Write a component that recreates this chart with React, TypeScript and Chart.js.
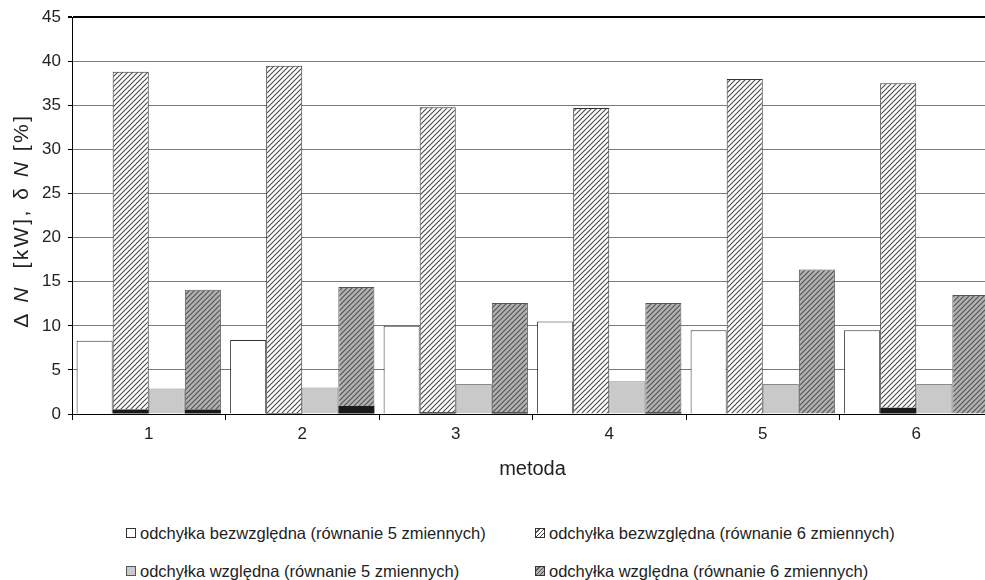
import React, { useEffect, useRef } from 'react';
import { Chart, registerables } from 'chart.js';

Chart.register(...registerables);

const FONT = '"Liberation Sans", Arial, sans-serif';

const categories = ['1', '2', '3', '4', '5', '6'];
// odchyłka bezwzględna (równanie 5 zmiennych)
const abs5 = [8.3, 8.4, 10.0, 10.5, 9.5, 9.5];
// odchyłka bezwzględna (równanie 6 zmiennych) - total bar height
const abs6 = [38.8, 39.5, 34.8, 34.7, 38.0, 37.5];
// dark strip visible at the base of those bars
const abs6Base = [0.5, 0.1, 0.2, 0.0, 0.0, 0.7];
// odchyłka względna (równanie 5 zmiennych)
const rel5 = [2.9, 3.0, 3.4, 3.7, 3.4, 3.4];
// odchyłka względna (równanie 6 zmiennych) - total bar height
const rel6 = [14.1, 14.4, 12.6, 12.6, 16.4, 13.5];
const rel6Base = [0.5, 0.9, 0.2, 0.2, 0.0, 0.0];

const yMin = 0;
const yMax = 45;
const yStep = 5;

const legendLabels = [
  'odchyłka bezwzględna (równanie 5 zmiennych)',
  'odchyłka bezwzględna (równanie 6 zmiennych)',
  'odchyłka względna (równanie 5 zmiennych)',
  'odchyłka względna (równanie 6 zmiennych)',
];
const xTitle = 'metoda';
const yTitleParts: [string, boolean][] = [
  ['Δ ', false],
  ['N', true],
  ['  [kW], δ ', false],
  ['N', true],
  [' [%]', false],
];

function makeHatch(bg: string, fg: string, size: number, lw: number) {
  const c = document.createElement('canvas');
  c.width = size;
  c.height = size;
  const g = c.getContext('2d')!;
  g.fillStyle = bg;
  g.fillRect(0, 0, size, size);
  g.strokeStyle = fg;
  g.lineWidth = lw;
  g.beginPath();
  g.moveTo(0, size);
  g.lineTo(size, 0);
  g.moveTo(-2, 2);
  g.lineTo(2, -2);
  g.moveTo(size - 2, size + 2);
  g.lineTo(size + 2, size - 2);
  g.stroke();
  return g.createPattern(c, 'repeat') as CanvasPattern;
}

const yTitlePlugin = {
  id: 'yTitleMixed',
  afterDraw(chart: any) {
    const { ctx, chartArea } = chart;
    ctx.save();
    ctx.translate(22, (chartArea.top + chartArea.bottom) / 2 + 5);
    ctx.rotate(-Math.PI / 2);
    ctx.fillStyle = '#222';
    ctx.textBaseline = 'middle';
    ctx.textAlign = 'left';
    try {
      (ctx as any).letterSpacing = '2.5px';
    } catch (e) {
      /* ignore */
    }
    const fontFor = (it: boolean) => `${it ? 'italic ' : ''}21px ${FONT}`;
    let total = 0;
    for (const [t, it] of yTitleParts) {
      ctx.font = fontFor(it);
      total += ctx.measureText(t).width;
    }
    let x = -total / 2;
    for (const [t, it] of yTitleParts) {
      ctx.font = fontFor(it);
      ctx.fillText(t, x, 0);
      x += ctx.measureText(t).width;
    }
    ctx.restore();
  },
};

const CANVAS_W = 1000;
const CANVAS_H = 500;

export default function App() {
  const ref = useRef<HTMLCanvasElement | null>(null);

  useEffect(() => {
    document.body.style.margin = '0';
    document.body.style.overflow = 'hidden';
    const canvas = ref.current;
    if (!canvas) return;
    const hatchLight = makeHatch('#ffffff', '#4a4a4a', 5, 1.1);
    const hatchDark = makeHatch('#b2b2b2', '#555555', 5, 1.2);

    const chart = new Chart(canvas, {
      type: 'bar',
      data: {
        labels: categories,
        datasets: [
          {
            label: legendLabels[0],
            data: abs5,
            backgroundColor: '#ffffff',
            borderColor: '#333333',
            borderWidth: 1,
            stack: 's1',
          },
          {
            label: 'base2',
            data: abs6Base,
            backgroundColor: '#1a1a1a',
            borderWidth: 0,
            stack: 's2',
          },
          {
            label: legendLabels[1],
            data: abs6.map((v, i) => v - abs6Base[i]),
            backgroundColor: hatchLight,
            borderColor: '#333333',
            borderWidth: 1,
            stack: 's2',
          },
          {
            label: legendLabels[2],
            data: rel5,
            backgroundColor: '#c9c9c9',
            borderColor: '#8a8a8a',
            borderWidth: 1,
            stack: 's3',
          },
          {
            label: 'base4',
            data: rel6Base,
            backgroundColor: '#1a1a1a',
            borderWidth: 0,
            stack: 's4',
          },
          {
            label: legendLabels[3],
            data: rel6.map((v, i) => v - rel6Base[i]),
            backgroundColor: hatchDark,
            borderColor: '#555555',
            borderWidth: 1,
            stack: 's4',
          },
        ],
      },
      options: {
        responsive: false,
        animation: false,
        layout: { padding: { left: 0, right: 7, top: 17, bottom: 0 } },
        datasets: { bar: { categoryPercentage: 0.94, barPercentage: 1 } },
        plugins: { legend: { display: false }, tooltip: { enabled: false } },
        scales: {
          x: {
            stacked: true,
            grid: {
              offset: true,
              drawOnChartArea: false,
              drawTicks: true,
              tickLength: 6,
              color: '#000000',
            },
            border: { color: '#000000', width: 1 },
            ticks: { color: '#222', font: { family: FONT, size: 17 }, padding: 4 },
            title: {
              display: true,
              text: xTitle,
              color: '#222',
              font: { family: FONT, size: 20 },
              padding: { top: 0, bottom: 19 },
            },
            afterFit: (s: any) => {
              s.height = CANVAS_H - 414;
            },
          },
          y: {
            stacked: true,
            min: yMin,
            max: yMax,
            ticks: {
              stepSize: yStep,
              color: '#222',
              font: { family: FONT, size: 17 },
              padding: 7,
            },
            grid: {
              color: (c: any) => (c.tick && c.tick.value === yMax ? '#000000' : '#7a7a7a'),
              lineWidth: (c: any) => (c.tick && c.tick.value === yMax ? 2 : 1),
              tickLength: 4,
              tickColor: '#000000',
            },
            border: { color: '#000000', width: 1 },
            afterFit: (s: any) => {
              s.width = 72;
            },
          },
        },
      },
      plugins: [yTitlePlugin],
    } as any);
    return () => chart.destroy();
  }, []);

  const swatches = [
    { background: '#ffffff', border: '1px solid #333' },
    {
      background:
        'repeating-linear-gradient(135deg, #ffffff 0px, #ffffff 2px, #4a4a4a 2px, #4a4a4a 3px)',
      border: '1px solid #333',
    },
    { background: '#c9c9c9', border: '1px solid #555' },
    {
      background:
        'repeating-linear-gradient(135deg, #b2b2b2 0px, #b2b2b2 2px, #555555 2px, #555555 3px)',
      border: '1px solid #333',
    },
  ];
  const legendPos = [
    { left: 126, top: 533 },
    { left: 535, top: 533 },
    { left: 126, top: 571 },
    { left: 535, top: 571 },
  ];

  return (
    <div
      style={{
        position: 'relative',
        width: 985,
        height: 580,
        overflow: 'hidden',
        background: '#ffffff',
        fontFamily: FONT,
      }}
    >
      <canvas
        ref={ref}
        width={CANVAS_W}
        height={CANVAS_H}
        style={{ position: 'absolute', left: 0, top: 0, width: CANVAS_W, height: CANVAS_H }}
      />
      {legendLabels.map((lab, i) => (
        <div
          key={lab}
          style={{
            position: 'absolute',
            left: legendPos[i].left,
            top: legendPos[i].top - 10,
            height: 20,
            display: 'flex',
            alignItems: 'center',
            whiteSpace: 'nowrap',
            fontSize: 16.5,
            color: '#222',
          }}
        >
          <span
            style={{
              display: 'inline-block',
              width: 8,
              height: 8,
              marginRight: 4,
              boxSizing: 'content-box',
              ...swatches[i],
            }}
          />
          <span>{lab}</span>
        </div>
      ))}
    </div>
  );
}
